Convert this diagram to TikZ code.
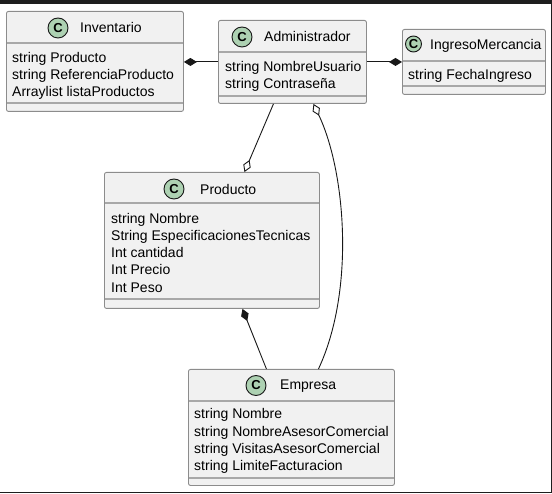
\documentclass[tikz,border=0pt]{standalone}
\usepackage{fontspec}
\setmainfont{Liberation Sans}
\usetikzlibrary{arrows.meta}
\definecolor{boxfill}{HTML}{F1F1F1}
\definecolor{boxline}{HTML}{8C8C8C}
\definecolor{sepcol}{HTML}{A8A8A8}
\definecolor{spotfill}{HTML}{ADD1B2}
\definecolor{ink}{HTML}{181818}
\definecolor{framecol}{HTML}{1E1E1E}

\begin{document}
\begin{tikzpicture}[x=1pt,y=-1pt,
  classbox/.style={draw=boxline, fill=boxfill, line width=0.9pt, rounded corners=2pt,
    anchor=north west, inner sep=0pt},
  sepline/.style={draw=sepcol, line width=1.1pt},
  spot/.style={circle, draw=ink, fill=spotfill, line width=0.9pt, minimum size=20pt,
    inner sep=0pt, font=\fontsize{13}{13}\selectfont\bfseries},
  title/.style={anchor=base west, inner sep=0pt, font=\fontsize{14}{17}\selectfont},
  attr/.style={anchor=base west, inner sep=0pt, font=\fontsize{14}{17}\selectfont},
  link/.style={draw=ink, line width=0.9pt},
  compend/.style={link, -{Diamond[length=13pt, width=8pt, fill=ink]}},
  compstart/.style={link, {Diamond[length=13pt, width=8pt, fill=ink]}-},
  aggrend/.style={link, -{Diamond[open, length=13pt, width=8pt, fill=white]}},
  aggrstart/.style={link, {Diamond[open, length=13pt, width=8pt, fill=white]}-},
]
\useasboundingbox (0,0) rectangle (552,494);

% window frame
\fill[framecol] (0,0) rectangle (552,4);
\draw[framecol, line width=1pt] (551.5,0) -- (551.5,493);
\fill[framecol] (0,491.5) rectangle (552,493);

% Inventario
\node[classbox, minimum width=177pt, minimum height=100pt] (inv) at (6,11) {};
\draw[sepline] (6.5,43) -- (182.5,43);
\draw[sepline] (6.5,103) -- (182.5,103);
\node[spot] (invS) at (58,28) {C};
\node[title] (invT) at (80,33) {Inventario};
\node[attr] (invA1) at (12,62.5) {string Producto};
\node[attr] (invA2) at (12,79.7) {string ReferenciaProducto};
\node[attr] (invA3) at (12,96.9) {Arraylist listaProductos};

% Administrador
\node[classbox, minimum width=148pt, minimum height=83pt] (adm) at (218,20) {};
\draw[sepline] (218.5,52) -- (365.5,52);
\draw[sepline] (218.5,96) -- (365.5,96);
\node[spot] (admS) at (242,37) {C};
\node[title] (admT) at (264,42) {Administrador};
\node[attr] (admA1) at (225,72) {string NombreUsuario};
\node[attr] (admA2) at (225,89) {string Contraseña};

% IngresoMercancia
\node[classbox, minimum width=143pt, minimum height=65pt] (ing) at (402,29) {};
\draw[sepline] (402.5,61) -- (544.5,61);
\draw[sepline] (402.5,86) -- (544.5,86);
\node[spot, minimum size=16pt] (ingS) at (413.5,44) {C};
\node[title] (ingT) at (430,49.3) {IngresoMercancia};
\node[attr] (ingA1) at (408,80) {string FechaIngreso};

% Producto
\node[classbox, minimum width=215pt, minimum height=136pt] (prod) at (104,172) {};
\draw[sepline] (104.5,203) -- (318.5,203);
\draw[sepline] (104.5,299) -- (318.5,299);
\node[spot] (prodS) at (174,189) {C};
\node[title] (prodT) at (200,194.3) {Producto};
\node[attr] (prodA1) at (111,223.3) {string Nombre};
\node[attr] (prodA2) at (111,240.5) {String EspecificacionesTecnicas};
\node[attr] (prodA3) at (111,257.7) {Int cantidad};
\node[attr] (prodA4) at (111,274.9) {Int Precio};
\node[attr] (prodA5) at (111,292.1) {Int Peso};

% Empresa
\node[classbox, minimum width=206pt, minimum height=116pt] (emp) at (188,369) {};
\draw[sepline] (188.5,401) -- (393.5,401);
\draw[sepline] (188.5,478) -- (393.5,478);
\node[spot] (empS) at (256,385.5) {C};
\node[title] (empT) at (280,390) {Empresa};
\node[attr] (empA1) at (194,419) {string Nombre};
\node[attr] (empA2) at (194,436.3) {string NombreAsesorComercial};
\node[attr] (empA3) at (194,453.6) {string VisitasAsesorComercial};
\node[attr] (empA4) at (194,470.9) {string LimiteFacturacion};

% relations
\draw[compend] (adm.west) -- (inv.east |- adm.west);
\draw[compend] (adm.east) -- (ing.west |- adm.east);
\draw[aggrend] ([xshift=-19pt]adm.south) -- ([xshift=32.5pt]prod.north);
\draw[aggrstart] ([xshift=21pt]adm.south) .. controls +(32,67) and +(37,-79) .. ([xshift=27pt]emp.north);
\draw[compstart] ([xshift=30.5pt]prod.south) -- ([xshift=-25pt]emp.north);
\end{tikzpicture}
\end{document}
